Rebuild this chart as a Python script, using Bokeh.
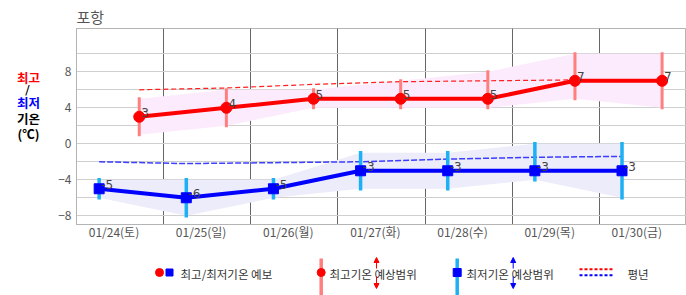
from bokeh.plotting import figure
from bokeh.models import Range1d, FixedTicker, Arrow, NormalHead
from bokeh.layouts import column, row
from bokeh.embed import file_html
from bokeh.resources import INLINE
from bokeh.core.properties import value

# ---------------- data ----------------
days = ["01/24(토)", "01/25(일)", "01/26(월)", "01/27(화)", "01/28(수)", "01/29(목)", "01/30(금)"]
max_fc = [3, 4, 5, 5, 5, 7, 7]
max_lo = [1, 2, 4, 4, 4, 5, 4]
max_hi = [5, 6, 6, 7, 8, 10, 10]
max_normal = [6.0, 6.2, 6.6, 6.9, 7.0, 7.1, 7.1]
min_fc = [-5, -6, -5, -3, -3, -3, -3]
min_lo = [-6, -8, -6, -5, -5, -4, -6]
min_hi = [-4, -4, -4, -1, -1, 0, 0]
min_normal = [-2.0, -2.2, -2.1, -2.0, -1.7, -1.5, -1.4]
y_labels = [-8, -4, 0, 4, 8]
y_grid = [-8, -6, -4, -2, 0, 2, 4, 6, 8, 10]
title_text = "포항"
caption = ["최고", "/", "최저", "기온", "(℃)"]
legend_texts = ["최고/최저기온 예보", "최고기온 예상범위", "최저기온 예상범위", "평년"]

KR = "Noto Sans CJK KR"
LABEL_OFF = 0.43
MAX_OFF = 0.72 - LABEL_OFF
MIN_OFF = 0.26 - LABEL_OFF

idx = list(range(len(days)))
xmax = [i + MAX_OFF for i in idx]
xmin = [i + MIN_OFF for i in idx]

W, H = 686, 295
TOP = 27          # height of title strip
CAP_W = 50        # width of caption column
MAIN_H = 218      # main chart height
LEG_H = H - TOP - MAIN_H


def pixel_fig(w, h, y0, y1, x0=0):
    f = figure(width=w, height=h, x_range=Range1d(x0, x0 + w), y_range=Range1d(y1, y0),
               x_axis_location=None, y_axis_location=None, min_border=0,
               outline_line_color=None, toolbar_location=None, output_backend="svg")
    f.grid.visible = False
    return f


# ---------------- title strip ----------------
top = pixel_fig(W, TOP, 0, TOP)
top.text([76], [16], text=[title_text], text_baseline="middle", text_font=value(KR),
         text_font_size="15px", text_color="#555555")

# ---------------- caption column ----------------
cap = pixel_fig(CAP_W, MAIN_H, TOP, TOP + MAIN_H)
cap.text([28, 28, 28], [81, 109, 127], text=[caption[0], caption[2], caption[3]],
         text_color=["#ff0000", "#0000ff", "#000000"],
         text_align="center", text_baseline="middle", text_font=value(KR),
         text_font_size="12.5px", text_font_style="bold")
cap.text([27], [95], text=[caption[1]], text_color="#000000", text_align="center",
         text_baseline="middle", text_font=value("DejaVu Sans"), text_font_size="13px")
cap.text([28], [144], text=[caption[4]], text_color="#000000", text_align="center",
         text_baseline="middle", text_font=value(KR), text_font_size="12.5px",
         text_font_style="bold")

# ---------------- main chart ----------------
p = figure(width=W - CAP_W, height=MAIN_H, x_range=Range1d(-LABEL_OFF, len(days) - LABEL_OFF),
           y_range=Range1d(-8.97, 12.81), output_backend="svg", toolbar_location=None,
           min_border_left=76 - CAP_W, min_border_right=0, min_border_top=1, min_border_bottom=21,
           outline_line_color="#b4b4b4", background_fill_color="white")

p.xaxis.ticker = FixedTicker(ticks=idx)
p.xaxis.major_label_overrides = {i: d for i, d in zip(idx, days)}
p.yaxis.ticker = FixedTicker(ticks=y_labels, minor_ticks=y_grid)
for ax in (p.xaxis, p.yaxis):
    ax.major_tick_line_color = None
    ax.minor_tick_line_color = None
    ax.major_tick_out = 0
    ax.minor_tick_out = 0
    ax.axis_line_color = "#b4b4b4"
    ax.major_label_text_font = KR
    ax.major_label_text_font_size = "12px"
    ax.major_label_text_color = "#555555"
p.xaxis.major_label_standoff = -2
p.yaxis.major_label_standoff = 5

p.xgrid.ticker = FixedTicker(ticks=[i + 1 - LABEL_OFF for i in idx[:-1]])
p.xgrid.grid_line_color = "#666666"
p.ygrid.grid_line_color = "#cfcfcf"
p.ygrid.minor_grid_line_color = "#cfcfcf"

p.varea(x=xmax, y1=max_lo, y2=max_hi, fill_color="#fcebfc")
p.varea(x=xmin, y1=min_lo, y2=min_hi, fill_color="#ececfb")
p.line(xmax, max_normal, line_color="#ff2020", line_dash="5 3", line_width=1.2)
p.line(xmin, min_normal, line_color="#1010ff", line_dash="6 2", line_width=1.5, line_alpha=0.8)
p.segment(xmax, max_lo, xmax, max_hi, line_color="#ff7f7f", line_width=3, line_cap="square")
p.segment(xmin, min_lo, xmin, min_hi, line_color="#1eb0f5", line_width=3.5, line_cap="square")
p.line(xmax, max_fc, line_color="#ff0000", line_width=4)
p.line(xmin, min_fc, line_color="#0000ff", line_width=4)
p.scatter(xmax, max_fc, marker="circle", size=11, color="#ff0000")
p.scatter(xmin, min_fc, marker="square", size=10, color="#0000ff")
p.text(xmax, max_fc, text=[str(v) for v in max_fc], x_offset=2, y_offset=-4,
       text_baseline="alphabetic", text_font=value("DejaVu Sans"), text_font_size="12px",
       text_color="#444444")
p.text(xmin, min_fc, text=[str(v) for v in min_fc], x_offset=2, y_offset=-4,
       text_baseline="alphabetic", text_font=value("DejaVu Sans"), text_font_size="12px",
       text_color="#444444")

# ---------------- legend strip ----------------
y0 = TOP + MAIN_H
lg = pixel_fig(W, LEG_H, y0, H)
LY = 272
lg.scatter([159], [LY], marker="circle", size=8, color="#ff0000")
lg.scatter([169], [LY], marker="square", size=7, color="#0000ff")
lg.segment([320.7], [258], [320.7], [296], line_color="#ff7f7f", line_width=3.5)
lg.scatter([320.7], [LY], marker="circle", size=8, color="#ff0000")
lg.segment([456.7], [258], [456.7], [296], line_color="#1eb0f5", line_width=3.5)
lg.scatter([456.7], [LY], marker="square", size=8, color="#0000ff")
lg.line([579, 612], [268.7, 268.7], line_color="#ff0000", line_dash="3 2", line_width=2)
lg.line([579, 612], [274.7, 274.7], line_color="#0000ff", line_dash="3 2", line_width=2)
for ax_x, col in ((376, "#ff0000"), (512.7, "#0000ff")):
    lg.add_layout(Arrow(end=NormalHead(size=5, fill_color=col, line_color=col),
                        x_start=ax_x, y_start=268, x_end=ax_x, y_end=257,
                        line_color=col, line_width=1))
    lg.add_layout(Arrow(end=NormalHead(size=5, fill_color=col, line_color=col),
                        x_start=ax_x, y_start=276, x_end=ax_x, y_end=288,
                        line_color=col, line_width=1))
lg.text([180, 329, 466, 627], [LY + 1] * 4, text=legend_texts,
        text_baseline="middle", text_font=value(KR), text_font_size="11.5px",
        text_color="#333333")

layout = column(top, row(cap, p, spacing=0), lg, spacing=0)
open("out.html", "w").write(file_html(layout, INLINE))
